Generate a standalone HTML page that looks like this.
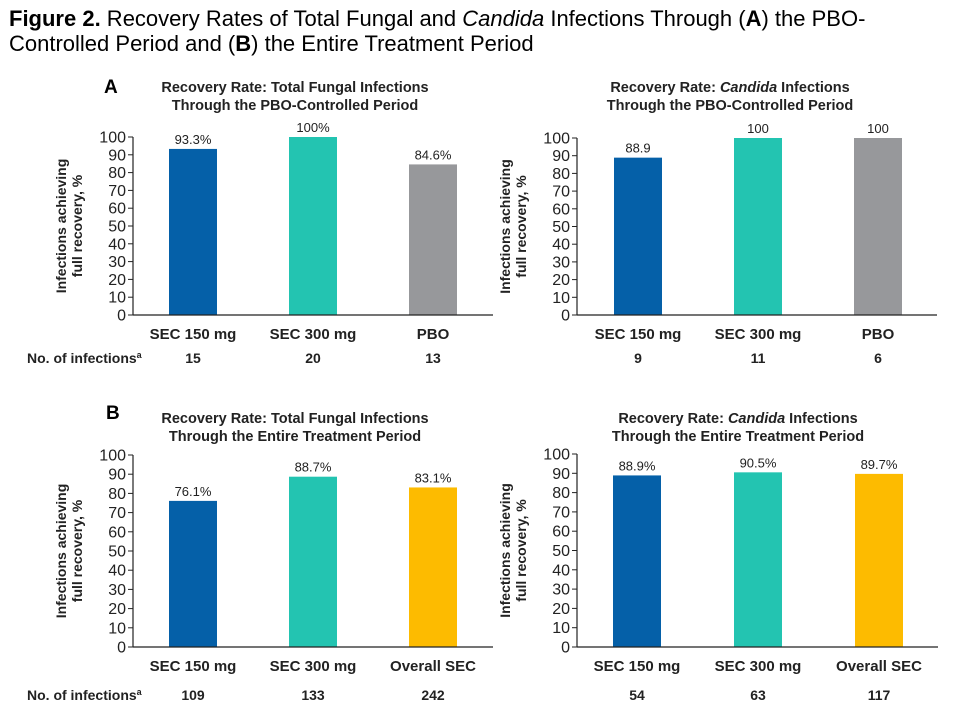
<!DOCTYPE html>
<html><head><meta charset="utf-8"><style>
body{margin:0;background:#fff;width:956px;height:710px;overflow:hidden;font-family:"Liberation Sans",Arial,sans-serif}
#hdr{position:absolute;left:9px;top:6px;font-size:22px;line-height:25px;color:#000;white-space:nowrap}
svg{position:absolute;left:0;top:0}
</style></head><body>
<div id="hdr"><b>Figure 2.</b> Recovery Rates of Total Fungal and <i>Candida</i> Infections Through (<b>A</b>) the PBO-<br>Controlled Period and (<b>B</b>) the Entire Treatment Period</div>
<svg id="s" width="956" height="710"></svg>
<script>
const catsTop=["SEC 150 mg","SEC 300 mg","PBO"];
const catsBot=["SEC 150 mg","SEC 300 mg","Overall SEC"];
const valsA1=[93.3,100,84.6];
const labA1=["93.3%","100%","84.6%"];
const nA1=["15","20","13"];
const valsA2=[88.9,100,100];
const labA2=["88.9","100","100"];
const nA2=["9","11","6"];
const valsB1=[76.1,88.7,83.1];
const labB1=["76.1%","88.7%","83.1%"];
const nB1=["109","133","242"];
const valsB2=[88.9,90.5,89.7];
const labB2=["88.9%","90.5%","89.7%"];
const nB2=["54","63","117"];
const ticks=[0,10,20,30,40,50,60,70,80,90,100];
const colTop=["#0560a8","#23c4b1","#97989b"];
const colBot=["#0560a8","#23c4b1","#fdbb00"];
const NS="http://www.w3.org/2000/svg";
const S=document.getElementById('s');
function el(t,a,txt){const e=document.createElementNS(NS,t);for(const k in a)e.setAttribute(k,a[k]);if(txt!=null)e.textContent=txt;S.appendChild(e);return e;}
function panel(p){
 const y=v=>p.y0-(p.y0-p.y100)*v/100;
 const g=el('g',{});
 
 
 const t1=el('text',{x:p.tc,y:p.ty,'text-anchor':'middle','font-size':14.5,'font-weight':'bold',fill:'#222'});
 t1.innerHTML=p.t1;
 
 
 const t2=el('text',{x:p.tc,y:p.ty+18,'text-anchor':'middle','font-size':14.5,'font-weight':'bold',fill:'#222'},p.t2);
 
 
 const yt=el('text',{transform:`translate(${p.ax-59},${(p.y0+p.y100)/2}) rotate(-90)`,'text-anchor':'middle','font-size':14,'font-weight':'bold',fill:'#222'});
 yt.innerHTML='<tspan x="0" dy="-8">Infections achieving</tspan><tspan x="0" dy="16">full recovery, %</tspan>';
 
 
 ticks.forEach(v=>{
  const tl=el('line',{x1:p.ax-5,x2:p.ax,y1:y(v),y2:y(v),stroke:'#222','stroke-width':1});
  
  
  const tx=el('text',{x:p.ax-7,y:y(v)+5.5,'text-anchor':'end','font-size':16,fill:'#222'},String(v));
  
  
 });
 p.vals.forEach((v,i)=>{
  const cx=p.bc[0]+i*p.bd;
  const r=el('rect',{x:cx-24,y:y(v),width:48,height:p.y0-y(v),fill:p.cols[i]});
  
  
  const l=el('text',{x:cx,y:y(v)-5,'text-anchor':'middle','font-size':13,fill:'#222'},p.labs[i]);
  
  
  const c=el('text',{x:cx,y:p.y0+24,'text-anchor':'middle','font-size':15,'font-weight':'bold',fill:'#222'},p.cats[i]);
  
  
  const n=el('text',{x:cx,y:p.ny,'text-anchor':'middle','font-size':14,'font-weight':'bold',fill:'#222'},p.ns[i]);
  
  
 });
 const ay=el('line',{x1:p.ax,x2:p.ax,y1:p.y100,y2:p.y0,stroke:'#222','stroke-width':1.2});
 
 
 const axx=el('line',{x1:p.ax,x2:p.xe,y1:p.y0,y2:p.y0,stroke:'#222','stroke-width':1.2});
 
 
}
panel({name:'panel-a-total-fungal',ax:133,xe:493,y100:137,y0:315,bc:[193],bd:120,vals:valsA1,labs:labA1,ns:nA1,cats:catsTop,cols:colTop,tc:295,ty:92,t1:'Recovery Rate: Total Fungal Infections',t2:'Through the PBO-Controlled Period',ny:363});
panel({name:'panel-a-candida',ax:577,xe:937,y100:138,y0:315,bc:[638],bd:120,vals:valsA2,labs:labA2,ns:nA2,cats:catsTop,cols:colTop,tc:730,ty:92,t1:'Recovery Rate: <tspan font-style="italic">Candida</tspan> Infections',t2:'Through the PBO-Controlled Period',ny:363});
panel({name:'panel-b-total-fungal',ax:133,xe:493,y100:455,y0:647,bc:[193],bd:120,vals:valsB1,labs:labB1,ns:nB1,cats:catsBot,cols:colBot,tc:295,ty:423,t1:'Recovery Rate: Total Fungal Infections',t2:'Through the Entire Treatment Period',ny:700});
panel({name:'panel-b-candida',ax:577,xe:938,y100:454,y0:647,bc:[637],bd:121,vals:valsB2,labs:labB2,ns:nB2,cats:catsBot,cols:colBot,tc:738,ty:423,t1:'Recovery Rate: <tspan font-style="italic">Candida</tspan> Infections',t2:'Through the Entire Treatment Period',ny:700});
const a=el('text',{x:104,y:93,'font-size':19,'font-weight':'bold',fill:'#000'},'A');


const b=el('text',{x:106,y:419,'font-size':19,'font-weight':'bold',fill:'#000'},'B');


[363,700].forEach(yy=>{
 const t=el('text',{x:27,y:yy,'font-size':14,'font-weight':'bold',fill:'#222'});
 t.innerHTML='No. of infections<tspan font-size="9" dy="-5">a</tspan>';
 
 
});
</script>
</body></html>
